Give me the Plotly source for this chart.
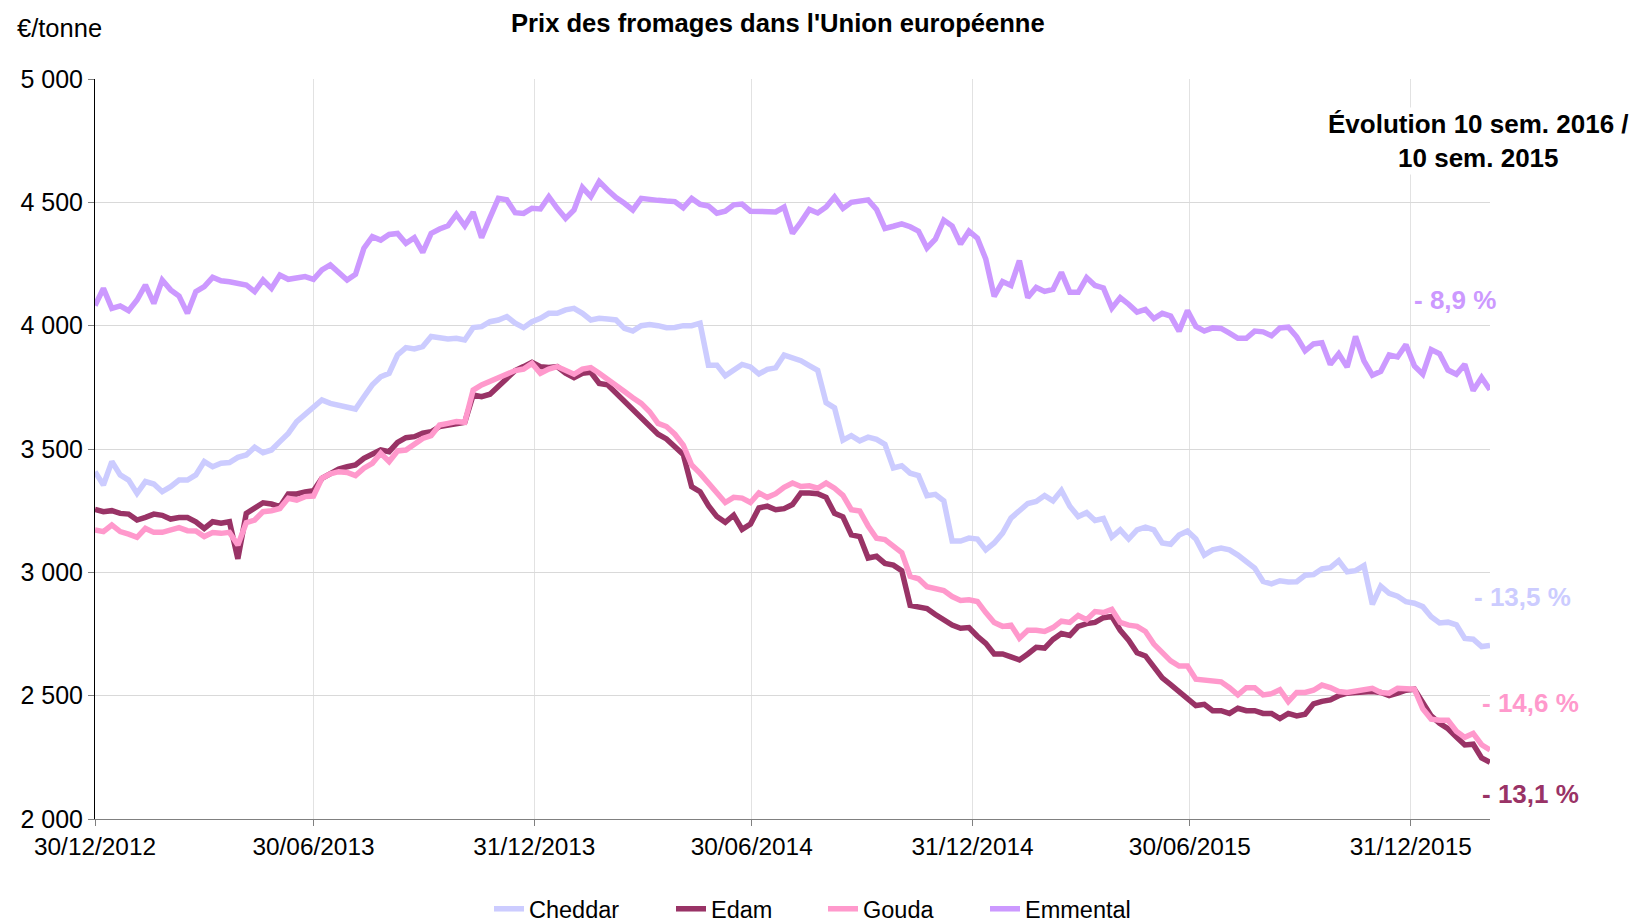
import pandas as pd
import plotly.graph_objects as go

start_date = "2012-12-30"
n_weeks = 167

cheddar = [3408, 3354, 3449, 3395, 3374, 3320, 3368, 3358, 3327, 3347, 3374, 3374, 3395, 3449, 3428, 3442, 3445, 3466, 3476, 3507, 3485, 3496, 3530, 3563, 3611, 3638, 3672, 3699, 3685,
           3676, 3668, 3662, 3712, 3760, 3793, 3807, 3881, 3911, 3906, 3915, 3956, 3951, 3946, 3949, 3942, 3992, 3996, 4016, 4023, 4037, 4010,
           3992, 4016, 4030, 4050, 4050, 4064, 4070, 4050, 4023, 4030, 4027, 4023, 3989, 3978, 4000, 4005, 4000, 3992, 3993, 4000, 4000, 4010, 3840, 3840,
           3797, 3823, 3843, 3833, 3804, 3823, 3829, 3881, 3870, 3858, 3838, 3819, 3688, 3667, 3536, 3554, 3533, 3548, 3539, 3519, 3423, 3432, 3402,
           3392, 3311, 3316, 3290, 3127, 3127, 3139, 3135, 3091, 3119, 3159, 3220, 3247, 3279, 3287, 3311, 3290, 3332, 3268, 3226, 3242, 3210, 3218,
           3143, 3172, 3135, 3172, 3183, 3172, 3119, 3114, 3151, 3167, 3135, 3070, 3091, 3098, 3091, 3070, 3046, 3017, 2963, 2953, 2966, 2961, 2962, 2988,
           2991, 3014, 3019, 3047, 3002, 3007, 3027, 2870, 2944, 2915, 2903, 2881, 2875, 2861, 2820, 2795, 2798, 2787, 2732, 2729, 2699, 2704]

edam = [3255, 3246, 3250, 3239, 3236, 3212, 3223, 3236, 3231, 3216, 3222, 3222, 3205, 3178, 3205, 3199, 3205, 3055, 3239, 3263, 3282, 3277, 3266, 3318, 3318, 3326, 3331, 3381, 3401,
        3419, 3428, 3435, 3462, 3476, 3496, 3489, 3527, 3546, 3550, 3564, 3570, 3591, 3595, 3604, 3608, 3719, 3712, 3722, 3753, 3787, 3818,
        3834, 3851, 3834, 3830, 3834, 3807, 3789, 3807, 3811, 3766, 3760, 3726, 3695, 3665, 3631, 3597, 3560, 3541, 3510, 3478, 3347, 3327, 3270, 3226,
        3203, 3232, 3174, 3196, 3261, 3268, 3254, 3258, 3275, 3322, 3322, 3319, 3304, 3239, 3225, 3152, 3145, 3058, 3065, 3036, 3029, 3007, 2866,
        2861, 2853, 2829, 2805, 2786, 2773, 2776, 2741, 2712, 2669, 2669, 2657, 2645, 2669, 2696, 2693, 2728, 2752, 2744, 2781, 2792, 2797, 2816,
        2821, 2765, 2725, 2674, 2661, 2616, 2572, 2545, 2516, 2492, 2460, 2465, 2439, 2439, 2428, 2449, 2439, 2439, 2428, 2428, 2407, 2428, 2418, 2425,
        2467, 2477, 2483, 2500, 2510, 2513, 2517, 2517, 2513, 2500, 2510, 2522, 2526, 2467, 2418, 2388, 2366, 2332, 2300, 2303, 2248, 2230]

gouda = [3172, 3165, 3192, 3165, 3155, 3142, 3178, 3162, 3162, 3169, 3181, 3169, 3168, 3145, 3161, 3158, 3162, 3111, 3201, 3212, 3246, 3250, 3259, 3300, 3293, 3307, 3309, 3381, 3399,
         3408, 3405, 3392, 3422, 3442, 3483, 3449, 3492, 3496, 3523, 3543, 3554, 3597, 3604, 3611, 3608, 3739, 3760, 3776, 3787, 3807, 3818,
         3824, 3847, 3807, 3824, 3834, 3816, 3803, 3824, 3830, 3807, 3780, 3753, 3733, 3708, 3685, 3651, 3604, 3591, 3560, 3516, 3435, 3401, 3360, 3325,
         3283, 3304, 3301, 3283, 3322, 3304, 3319, 3345, 3362, 3348, 3351, 3341, 3362, 3341, 3312, 3254, 3249, 3188, 3138, 3133, 3109, 3080, 2984,
         2974, 2942, 2934, 2926, 2902, 2886, 2889, 2882, 2837, 2797, 2781, 2786, 2733, 2765, 2765, 2760, 2776, 2802, 2797, 2825, 2808, 2841, 2837,
         2850, 2797, 2786, 2781, 2760, 2709, 2677, 2641, 2620, 2620, 2567, 2564, 2556, 2556, 2532, 2503, 2532, 2532, 2503, 2508, 2524, 2476, 2513, 2513,
         2522, 2543, 2533, 2517, 2513, 2517, 2522, 2530, 2513, 2510, 2530, 2526, 2526, 2447, 2405, 2400, 2400, 2356, 2331, 2347, 2301, 2280]

emmental = [4082, 4151, 4070, 4080, 4061, 4104, 4165, 4090, 4185, 4145, 4120, 4050, 4138, 4158, 4196, 4182, 4178, 4174, 4165, 4138, 4185, 4151, 4205, 4188, 4196, 4199, 4188, 4226, 4246,
            4216, 4185, 4208, 4314, 4361, 4347, 4370, 4374, 4334, 4357, 4297, 4374, 4392, 4405, 4451, 4405, 4460, 4357, 4438, 4516, 4510, 4458,
            4455, 4476, 4473, 4523, 4476, 4435, 4469, 4560, 4523, 4584, 4550, 4519, 4496, 4469, 4516, 4510, 4508, 4505, 4503, 4478, 4516, 4492, 4485, 4456,
            4464, 4490, 4493, 4464, 4464, 4464, 4461, 4481, 4374, 4420, 4471, 4457, 4481, 4522, 4475, 4500, 4503, 4510, 4471, 4394, 4403, 4413, 4401,
            4383, 4315, 4351, 4428, 4404, 4331, 4383, 4355, 4270, 4119, 4179, 4163, 4264, 4114, 4155, 4139, 4147, 4216, 4135, 4135, 4195, 4163, 4153,
            4071, 4114, 4087, 4055, 4066, 4029, 4050, 4039, 3978, 4061, 3997, 3978, 3991, 3989, 3970, 3949, 3949, 3978, 3975, 3959, 3991, 3994, 3955, 3898,
            3926, 3931, 3843, 3886, 3832, 3956, 3857, 3799, 3815, 3881, 3873, 3923, 3837, 3803, 3903, 3886, 3820, 3803, 3843, 3737, 3790, 3740]

series_names = ["Cheddar", "Edam", "Gouda", "Emmental"]
series_colors = ["#ccccff", "#993366", "#ff99cc", "#cc99ff"]
evolutions = ["- 13,5 %", "- 13,1 %", "- 14,6 %", "- 8,9 %"]

x_tick_dates = ["2012-12-30", "2013-06-30", "2013-12-31", "2014-06-30", "2014-12-31", "2015-06-30", "2015-12-31"]
x_tick_labels = ["30/12/2012", "30/06/2013", "31/12/2013", "30/06/2014", "31/12/2014", "30/06/2015", "31/12/2015"]
y_tick_vals = [2000, 2500, 3000, 3500, 4000, 4500, 5000]
y_tick_labels = ["2 000", "2 500", "3 000", "3 500", "4 000", "4 500", "5 000"]

dates = pd.date_range(start_date, periods=n_weeks, freq="7D")

FONT = "Liberation Sans, Arial, sans-serif"
ML, MR, MT, MB = 95, 147, 79, 104
W, H = 1637, 923
PW, PH = W - ML - MR, H - MT - MB


def px_to_paper_x(px):
    return (px - ML) / PW


def px_to_paper_y(py):
    return (H - MB - py) / PH


legend_ids = ["legend", "legend2", "legend3", "legend4"]
legend_left_px = [489, 671, 823, 985]

fig = go.Figure()
for name, vals, col, lid in zip(series_names, [cheddar, edam, gouda, emmental], series_colors, legend_ids):
    fig.add_trace(go.Scatter(x=dates, y=vals, mode="lines", name=name, legend=lid,
                             line=dict(color=col, width=5.5)))

layout_legends = {}
for lid, lx in zip(legend_ids, legend_left_px):
    layout_legends[lid] = dict(orientation="h", x=px_to_paper_x(lx), xanchor="left",
                               y=px_to_paper_y(909), yanchor="middle",
                               font=dict(size=23.5, family=FONT, color="black"),
                               bgcolor="rgba(0,0,0,0)")

fig.update_layout(
    width=W, height=H, autosize=False,
    margin=dict(l=ML, r=MR, t=MT, b=MB, autoexpand=False),
    paper_bgcolor="white", plot_bgcolor="white",
    font=dict(family=FONT, size=24, color="black"),
    showlegend=True,
    xaxis=dict(type="date", range=[dates[0], dates[-1]],
               tickvals=pd.to_datetime(x_tick_dates), ticktext=x_tick_labels,
               showgrid=True, gridcolor="#e2e2e2", gridwidth=1,
               showline=True, linecolor="#808080", linewidth=1,
               ticks="outside", ticklen=6, tickcolor="#808080",
               tickfont=dict(size=24.4, family=FONT), zeroline=False),
    yaxis=dict(range=[2000, 5000], tickvals=y_tick_vals, ticktext=y_tick_labels,
               showgrid=True, gridcolor="#d9d9d9", gridwidth=1,
               showline=True, linecolor="black", linewidth=1,
               ticks="outside", ticklen=6, tickcolor="#808080",
               tickfont=dict(size=25, family=FONT), zeroline=False),
    **layout_legends,
)

ann = []
ann.append(dict(text="<b>Prix des fromages dans l'Union européenne</b>", x=px_to_paper_x(778), y=px_to_paper_y(23),
                xref="paper", yref="paper", xanchor="center", yanchor="middle", showarrow=False,
                font=dict(size=25.6, family=FONT, color="black")))
ann.append(dict(text="€/tonne", x=px_to_paper_x(15), y=px_to_paper_y(28), xref="paper", yref="paper",
                xanchor="left", yanchor="middle", showarrow=False,
                font=dict(size=25.5, family=FONT, color="black")))
ann.append(dict(text="<b>Évolution 10 sem. 2016 /<br>10 sem. 2015</b>", x=px_to_paper_x(1478), y=px_to_paper_y(141),
                xref="paper", yref="paper", xanchor="center", yanchor="middle", showarrow=False,
                align="center", bgcolor="white",
                font=dict(size=26, family=FONT, color="black")))
label_px = {"Cheddar": (1522, 597), "Edam": (1530, 794), "Gouda": (1530, 703), "Emmental": (1455, 300)}
for name, col, ev in zip(series_names, series_colors, evolutions):
    lx, ly = label_px[name]
    ann.append(dict(text="<b>" + ev + "</b>", x=px_to_paper_x(lx), y=px_to_paper_y(ly), xref="paper", yref="paper",
                    xanchor="center", yanchor="middle", showarrow=False,
                    font=dict(size=26, family=FONT, color=col)))
fig.update_layout(annotations=ann)

fig.write_html("out.html", config={"displayModeBar": False},
               post_script="document.body.style.margin='0';document.body.style.padding='0';document.body.style.overflow='hidden';")
